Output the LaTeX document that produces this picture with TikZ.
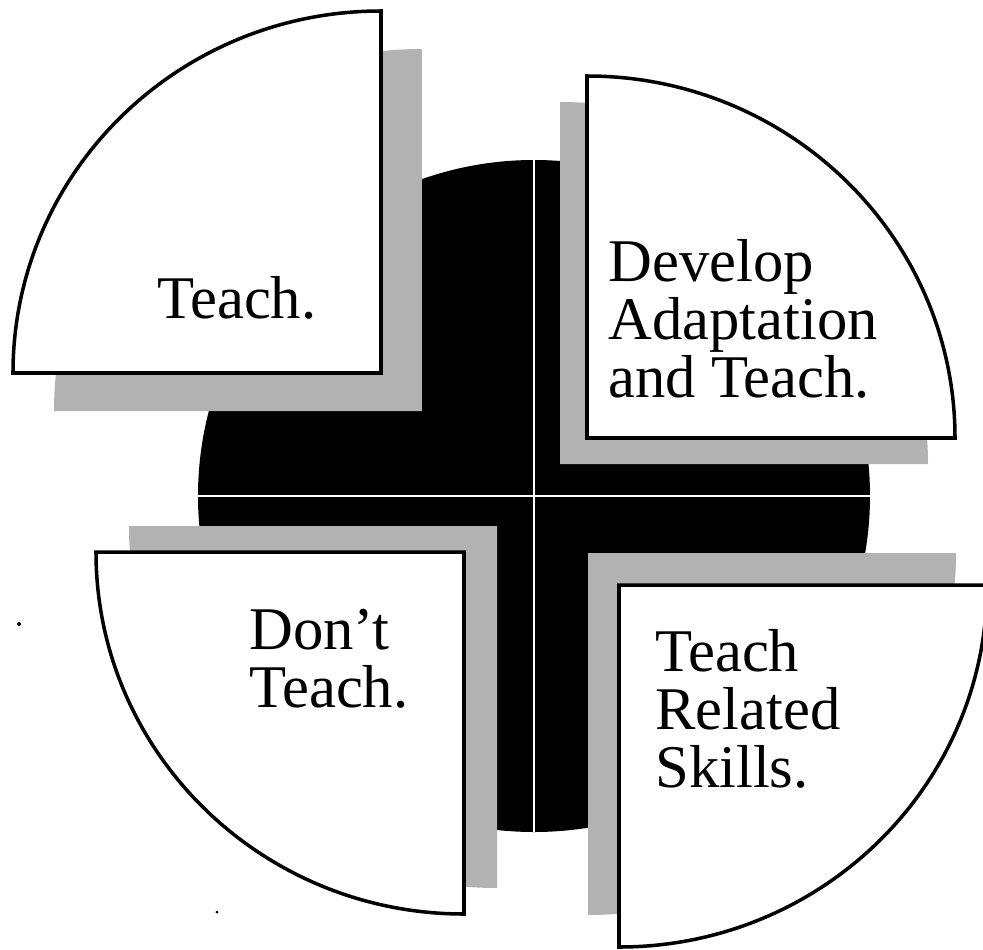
\documentclass[tikz,border=0pt]{standalone}
\usepackage{fontspec}
\setmainfont{Liberation Serif}
\usepackage{tikz}
\usetikzlibrary{positioning}

\begin{document}
\begin{tikzpicture}[x=0.2mm,y=0.2mm]
		\tikzset{
			quarter/.style={fill=white, draw=black, line width=2pt, line join=miter},
			halftone/.style={fill=black!30},
			crossline/.style={white, line width=1.1pt},
			wedgetext/.style={inner sep=0pt, align=left, anchor=base west,
				font=\fontsize{34.5}{32.8}\selectfont}
		}
		\useasboundingbox (-534,-453) rectangle (449,496);
		\clip (-534,-453) rectangle (449,496);
		
		% black disc with the white cross
		\fill[black] (0,0) circle [radius=336];
		\draw[crossline] (0,-336) -- (0,336);
		\draw[crossline] (-336,0) -- (336,0);
		
		% shadows, then the four quarters
		\foreach \cx/\cy/\dx/\dy/\a/\b/\s in {-153/123/41/-38/90/180/1, 53/58/-27/-26/90/0/1,
			-70/-56/33/26/270/180/-1, 85/-89/-31/32/270/360/-1}
		{
			\fill[halftone] (\cx+\dx,\cy+\dy) -- ++(0,\s*362)
				arc [start angle=\a, end angle=\b, x radius=368, y radius=362] -- cycle;
		}
		\foreach \cx/\cy/\a/\b/\s in {-153/123/90/180/1, 53/58/90/0/1,
			-70/-56/270/180/-1, 85/-89/270/360/-1}
		{
			\draw[quarter] (\cx,\cy) -- ++(0,\s*362)
				arc [start angle=\a, end angle=\b, x radius=368, y radius=362] -- cycle;
		}
		
		% text nodes sit on the baseline of their last line
		\node[wedgetext] (teach)   at (-377,178)  {Teach.};
		\node[wedgetext] (develop) at (74,99)     {Develop\\Adaptation\\and Teach.};
		\node[wedgetext] (dont)    at (-285,-211) {Don’t\\Teach.};
		\node[wedgetext] (related) at (121,-291)  {Teach\\Related\\Skills.};
		
		% specks
		\fill (-515,-128) circle [radius=2];
		\fill (-317,-416) circle [radius=1.5];
\end{tikzpicture}
\end{document}
